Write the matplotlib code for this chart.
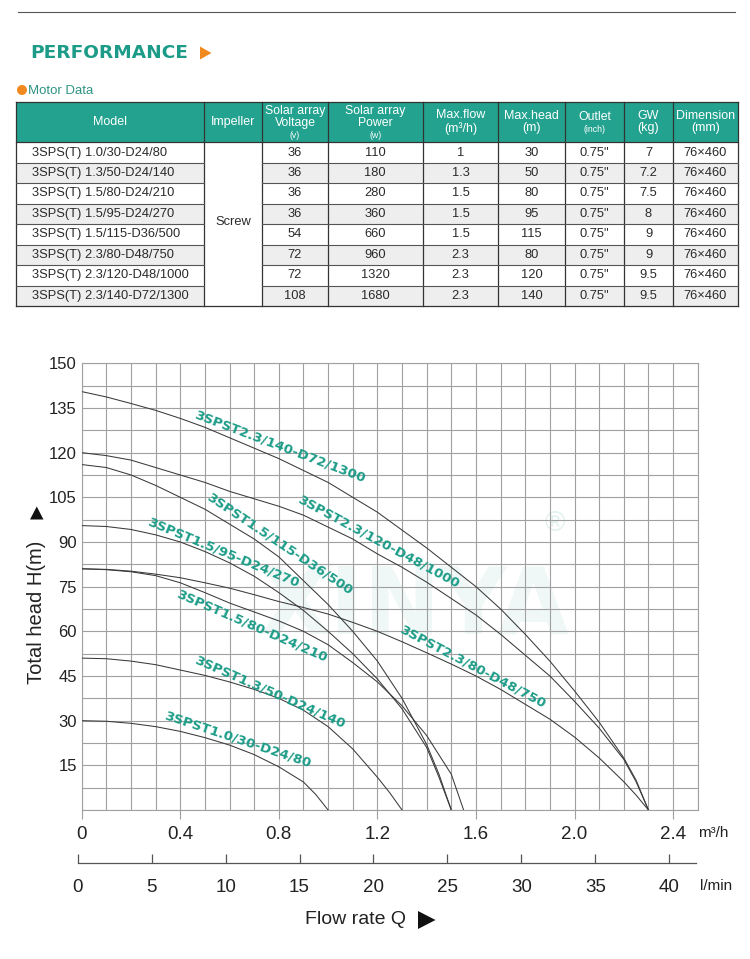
import matplotlib
matplotlib.use('Agg')
import matplotlib.pyplot as plt
from matplotlib.patches import Rectangle, Circle, Polygon
import numpy as np

plt.rcParams['font.family'] = ['Liberation Sans', 'DejaVu Sans']

# ---------------- data ----------------
table_headers = ["Model", "Impeller", "Solar array\nVoltage", "Solar array\nPower",
                 "Max.flow\n(m³/h)", "Max.head\n(m)", "Outlet", "GW\n(kg)", "Dimension\n(mm)"]
header_units = ["", "", "(v)", "(w)", "", "", "(inch)", "", ""]
models = ["3SPS(T) 1.0/30-D24/80", "3SPS(T) 1.3/50-D24/140", "3SPS(T) 1.5/80-D24/210",
          "3SPS(T) 1.5/95-D24/270", "3SPS(T) 1.5/115-D36/500", "3SPS(T) 2.3/80-D48/750",
          "3SPS(T) 2.3/120-D48/1000", "3SPS(T) 2.3/140-D72/1300"]
impeller = "Screw"
voltage = [36, 36, 36, 36, 54, 72, 72, 108]
power = [110, 180, 280, 360, 660, 960, 1320, 1680]
max_flow = ["1", "1.3", "1.5", "1.5", "1.5", "2.3", "2.3", "2.3"]
max_head = [30, 50, 80, 95, 115, 80, 120, 140]
outlet = ['0.75"', '0.75"', '0.75"', '0.75"', '0.75"', '0.75"', '0.75"', '0.75"']
gw = ["7", "7.2", "7.5", "8", "9", "9", "9.5", "9.5"]
dimension = ["76×460", "76×460", "76×460", "76×460", "76×460", "76×460", "76×460", "76×460"]

# performance curves (flow m3/h, head m)
q_10_30 = [0, 0.1, 0.2, 0.3, 0.4, 0.5, 0.6, 0.7, 0.8, 0.9, 0.95, 1.0]
h_10_30 = [30, 29.8, 29.1, 28, 26.4, 24.3, 21.8, 18.6, 14.5, 9.4, 5.2, 0]

q_13_50 = [0, 0.1, 0.2, 0.3, 0.4, 0.5, 0.6, 0.7, 0.8, 0.9, 1.0, 1.1, 1.2, 1.25, 1.3]
h_13_50 = [51, 50.8, 50, 48.8, 47, 45.2, 43, 40.5, 37.5, 33.5, 28, 20.5, 11, 5.8, 0]

q_15_80 = [0, 0.1, 0.2, 0.3, 0.4, 0.5, 0.6, 0.7, 0.8, 0.9, 1.0, 1.1, 1.2, 1.3, 1.4, 1.5, 1.55]
h_15_80 = [81, 80.7, 80, 78.7, 76.3, 73, 69.5, 66.5, 63.5, 60, 55.5, 49.5, 43, 35, 25, 12, 0]

q_15_95 = [0, 0.1, 0.2, 0.3, 0.4, 0.5, 0.6, 0.7, 0.8, 0.9, 1.0, 1.1, 1.2, 1.3, 1.4, 1.45, 1.5]
h_15_95 = [95.5, 95.2, 94.2, 92.4, 90, 86.8, 83, 78.5, 73, 67, 60, 52.5, 44, 34, 21, 11, 0]

q_15_115 = [0, 0.1, 0.2, 0.3, 0.4, 0.5, 0.6, 0.7, 0.8, 0.9, 1.0, 1.1, 1.2, 1.3, 1.4, 1.45, 1.5]
h_15_115 = [116, 115, 112.5, 109, 105, 101, 96, 91, 85, 77, 69, 60, 50, 37.5, 22, 12, 0]

q_23_80 = [0, 0.1, 0.2, 0.3, 0.4, 0.5, 0.6, 0.7, 0.8, 0.9, 1.0, 1.1, 1.2, 1.3, 1.4, 1.5,
           1.6, 1.7, 1.8, 1.9, 2.0, 2.1, 2.2, 2.25, 2.3]
h_23_80 = [81, 80.8, 80.2, 79.2, 78, 76.3, 74.5, 72.3, 70, 68, 65.8, 63, 60, 56.5, 52.8, 49,
           45, 40.5, 35.5, 30.5, 24.5, 17.5, 9.5, 5, 0]

q_23_120 = [0, 0.1, 0.2, 0.3, 0.4, 0.5, 0.6, 0.7, 0.8, 0.9, 1.0, 1.1, 1.2, 1.3, 1.4, 1.5,
            1.6, 1.7, 1.8, 1.9, 2.0, 2.1, 2.2, 2.25, 2.3]
h_23_120 = [120, 119, 117.5, 115, 112.5, 110, 107, 104.5, 102, 99, 95, 91, 86, 81.5, 76.5, 71,
            65.5, 59, 52, 45, 36.5, 27.5, 17, 9.5, 0]

q_23_140 = [0, 0.1, 0.2, 0.3, 0.4, 0.5, 0.6, 0.7, 0.8, 0.9, 1.0, 1.1, 1.2, 1.3, 1.4, 1.5,
            1.6, 1.7, 1.8, 1.9, 2.0, 2.1, 2.2, 2.25, 2.3]
h_23_140 = [140.5, 138.7, 136.5, 134.2, 131.5, 128.5, 125, 121.5, 118, 114, 110, 105, 100, 94,
            88, 81.5, 75, 67.5, 59, 50, 40, 29.5, 17.5, 10, 0]

curve_names = ["3SPST1.0/30-D24/80", "3SPST1.3/50-D24/140", "3SPST1.5/80-D24/210",
               "3SPST1.5/95-D24/270", "3SPST1.5/115-D36/500", "3SPST2.3/80-D48/750",
               "3SPST2.3/120-D48/1000", "3SPST2.3/140-D72/1300"]
curves_q = [q_10_30, q_13_50, q_15_80, q_15_95, q_15_115, q_23_80, q_23_120, q_23_140]
curves_h = [h_10_30, h_13_50, h_15_80, h_15_95, h_15_115, h_23_80, h_23_120, h_23_140]

flow_ticks_m3h = [0, 0.4, 0.8, 1.2, 1.6, 2.0, 2.4]
flow_tick_labels = ["0", "0.4", "0.8", "1.2", "1.6", "2.0", "2.4"]
flow_ticks_lmin = [0, 5, 10, 15, 20, 25, 30, 35, 40]
head_ticks = [15, 30, 45, 60, 75, 90, 105, 120, 135, 150]

# ---------------- layout / style ----------------
W, H = 750, 959
TEAL = '#1c9c88'
ORANGE = '#f08a1e'
LINE = '#3a3a3a'
GRID = '#a0a0a0'

fig = plt.figure(figsize=(7.5, 9.59), dpi=100)
fig.patch.set_facecolor('white')

ov = fig.add_axes([0, 0, 1, 1])
ov.set_xlim(0, W)
ov.set_ylim(H, 0)
ov.axis('off')

# top rule
ov.plot([18, 735], [12, 12], color='#555555', lw=0.8)

# title
ov.text(30, 53, "PERFORMANCE", fontsize=13.3, fontweight='bold', color=TEAL,
        family='DejaVu Sans', ha='left', va='center')
ov.add_patch(Polygon([(200, 46.5), (200, 59.5), (211.5, 53)], closed=True, color=ORANGE, lw=0))

# motor data
ov.add_patch(Circle((22, 90), 5, color=ORANGE, lw=0))
ov.text(28.5, 90.5, "Motor Data", fontsize=9.5, color='#2f9484', ha='left', va='center')

# table
col_edges = [16, 204, 262.3, 327.7, 422.7, 498.3, 565, 624.3, 672.7, 738.3]
hdr_top, hdr_bot = 101.7, 142.3
row_h = (306.0 - hdr_bot) / len(models)

ov.add_patch(Rectangle((col_edges[0], hdr_top), col_edges[-1] - col_edges[0], hdr_bot - hdr_top,
                       facecolor='#22a28f', edgecolor='none'))
for i in range(len(models)):
    y0 = hdr_bot + i * row_h
    fc = 'white' if i % 2 == 0 else '#eeeeee'
    ov.add_patch(Rectangle((col_edges[0], y0), col_edges[-1] - col_edges[0], row_h,
                           facecolor=fc, edgecolor='none'))
# merged impeller column
ov.add_patch(Rectangle((col_edges[1], hdr_bot), col_edges[2] - col_edges[1], 306 - hdr_bot,
                       facecolor='white', edgecolor='none'))

# grid lines of table
for x in col_edges:
    ov.plot([x, x], [hdr_top, 306], color='#333333', lw=0.9)
ov.plot([col_edges[0], col_edges[-1]], [hdr_top, hdr_top], color='#333333', lw=0.9)
ov.plot([col_edges[0], col_edges[-1]], [hdr_bot, hdr_bot], color='#333333', lw=0.9)
ov.plot([col_edges[0], col_edges[-1]], [306, 306], color='#333333', lw=0.9)
for i in range(1, len(models)):
    y = hdr_bot + i * row_h
    ov.plot([col_edges[0], col_edges[1]], [y, y], color='#555555', lw=0.8)
    ov.plot([col_edges[2], col_edges[-1]], [y, y], color='#555555', lw=0.8)

# header text
hdr_mid = (hdr_top + hdr_bot) / 2
for j, (lab, unit) in enumerate(zip(table_headers, header_units)):
    cx = (col_edges[j] + col_edges[j + 1]) / 2
    if unit:
        ov.text(cx, hdr_mid - 5, lab, fontsize=8.8, color='white', ha='center', va='center',
                linespacing=0.95)
        ov.text(cx, hdr_mid + 13 if '\n' in lab else hdr_mid + 7, unit, fontsize=6.3,
                color='white', ha='center', va='center')
    else:
        ov.text(cx, hdr_mid, lab, fontsize=9, color='white', ha='center', va='center',
                linespacing=1.1)

# body text
cols = [models, None, voltage, power, max_flow, max_head, outlet, gw, dimension]
for i in range(len(models)):
    cy = hdr_bot + (i + 0.5) * row_h
    for j, col in enumerate(cols):
        if col is None:
            continue
        if j == 0:
            ov.text(32, cy, col[i], fontsize=9.3, color='#2a2a2a', ha='left', va='center')
        else:
            cx = (col_edges[j] + col_edges[j + 1]) / 2
            ov.text(cx, cy, str(col[i]), fontsize=9.3, color='#2a2a2a', ha='center', va='center')
ov.text((col_edges[1] + col_edges[2]) / 2, (hdr_bot + 306) / 2 - 2, impeller, fontsize=9.3,
        color='#2a2a2a', ha='center', va='center')

# ---------------- chart ----------------
L, R, T, B = 81.7, 697.7, 363.3, 810.0
ax = fig.add_axes([L / W, 1 - B / H, (R - L) / W, (B - T) / H])
ax.set_facecolor('none')
ax.set_xlim(0, 2.5)
ax.set_ylim(0, 150)

# faint watermark
ax.text(1.35, 68, "XINYA", fontsize=66, fontweight='bold', color='#eff8f6', ha='center',
        va='center', family='DejaVu Sans', zorder=0)
ax.text(1.92, 96, "®", fontsize=20, color='#e3f2ef', ha='center', va='center', zorder=0)

ax.set_xticks(flow_ticks_m3h)
ax.set_xticklabels(flow_tick_labels)
ax.set_xticks(np.arange(0, 2.51, 0.1), minor=True)
ax.set_yticks(head_ticks)
ax.set_yticks(np.arange(0, 150.1, 7.5), minor=True)
ax.grid(which='both', color=GRID, lw=0.8, zorder=1)
ax.set_axisbelow(True)
for s in ax.spines.values():
    s.set_color(GRID)
    s.set_linewidth(0.8)
ax.tick_params(axis='x', which='major', length=6.5, width=0.8, color=GRID, pad=5,
               labelsize=13.5, labelcolor='#222222')
ax.tick_params(axis='x', which='minor', length=0)
ax.tick_params(axis='y', which='both', length=0, pad=3.5, labelsize=12, labelcolor='#222222')

for q, h in zip(curves_q, curves_h):
    ax.plot(q, h, color=LINE, lw=0.75, zorder=3)

label_pos = [(0.633, 23.8, -18.4), (0.765, 39.5, -23.6), (0.692, 61.8, -23.5),
             (0.574, 86.6, -22.5), (0.802, 89.3, -33.8), (1.588, 48.1, -27.8),
             (1.204, 90.0, -28.3), (0.806, 121.9, -20.8)]
for name, (lx, ly, rot) in zip(curve_names, label_pos):
    ax.text(lx, ly, name, fontsize=9.6, fontweight='bold', color=TEAL, family='DejaVu Sans',
            rotation=rot, rotation_mode='anchor', ha='center', va='center', zorder=4)

# l/min axis
lmin_left, lmin_right, lmin_y = 77.7, 695.7, 862.7
px_per_lmin = (669.3 - 77.7) / 40
ax2 = fig.add_axes([lmin_left / W, 1 - lmin_y / H, (lmin_right - lmin_left) / W, 0.0001])
ax2.set_facecolor('none')
ax2.set_xlim(0, (lmin_right - lmin_left) / px_per_lmin)
for s in ['top', 'left', 'right']:
    ax2.spines[s].set_visible(False)
ax2.spines['bottom'].set_color('#555555')
ax2.spines['bottom'].set_linewidth(0.9)
ax2.set_yticks([])
ax2.set_xticks(flow_ticks_lmin)
ax2.set_xticklabels([str(v) for v in flow_ticks_lmin])
ax2.tick_params(axis='x', direction='in', length=6.5, width=0.9, color='#555555', pad=12,
                labelsize=13.5, labelcolor='#222222')

# axis titles / units
ov.text(698, 833, "m³/h", fontsize=11, color='#222222', ha='left', va='center')
ov.text(700, 886, "l/min", fontsize=11, color='#222222', ha='left', va='center')
ov.text(305, 920, "Flow rate Q", fontsize=14, color='#222222', ha='left', va='center')
ov.add_patch(Polygon([(418, 911), (418, 929), (435.5, 920)], closed=True, color='#111111', lw=0))
ov.text(36, 612, "Total head H(m)", fontsize=14.5, color='#222222', rotation=90,
        ha='center', va='center')
ov.add_patch(Polygon([(30, 519.5), (43.5, 519.5), (36.75, 506.5)], closed=True,
                     color='#111111', lw=0))

fig.savefig('out.png', dpi=100, facecolor='white')
